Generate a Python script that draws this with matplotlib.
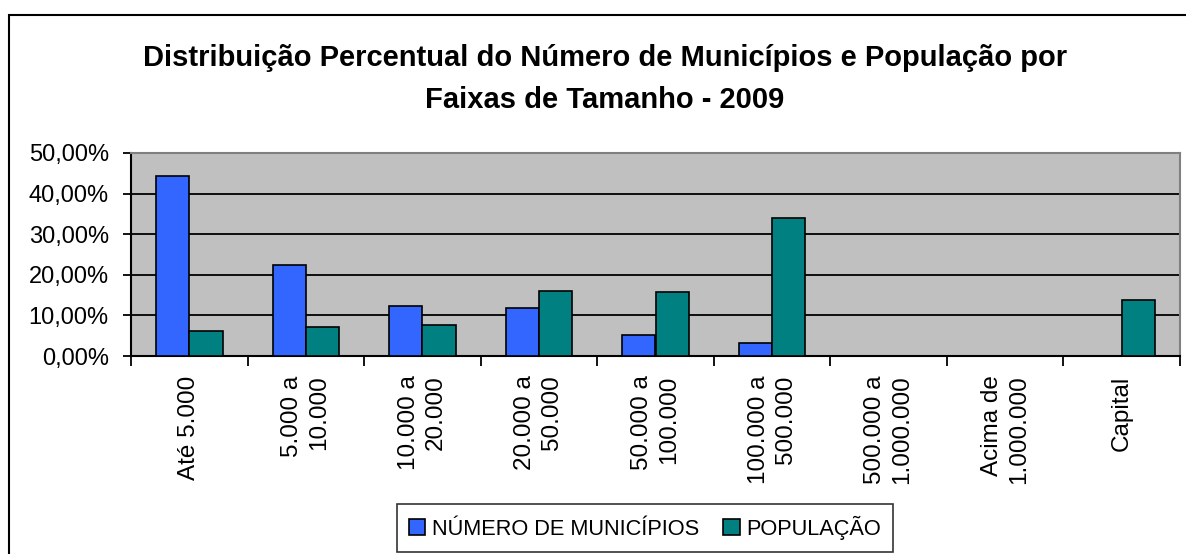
import numpy as np
import matplotlib
matplotlib.use('Agg')
import matplotlib.pyplot as plt
from matplotlib.patches import Rectangle
from matplotlib.ticker import FuncFormatter, MultipleLocator

plt.rcParams['font.family'] = ['Liberation Sans', 'DejaVu Sans']

# Faixas de tamanho e percentuais
faixas = ['Até 5.000', '5.000 a\n10.000', '10.000 a\n20.000', '20.000 a\n50.000',
          '50.000 a\n100.000', '100.000 a\n500.000', '500.000 a\n1.000.000',
          'Acima de\n1.000.000', 'Capital']
municipios = [44.3, 22.4, 12.4, 11.9, 5.2, 3.3, 0.0, 0.0, 0.0]
populacao = [6.2, 7.1, 7.6, 16.1, 15.7, 33.9, 0.0, 0.0, 13.8]

W, H = 1186, 554
fig = plt.figure(figsize=(W / 100, H / 100), dpi=100)

# moldura do gráfico
fig.patches.append(Rectangle((9 / W, -0.1), 1.2, 1 - 15.5 / H + 0.1, transform=fig.transFigure,
                             fill=False, edgecolor='black', linewidth=1.5))

left, right, top, bottom = 131, 1180, 153, 356
ax = fig.add_axes([left / W, 1 - bottom / H, (right - left) / W, (bottom - top) / H])
ax.set_facecolor('#C0C0C0')

x = np.arange(len(faixas))
bw = 1 / 3.5
mask_m = [v > 0 for v in municipios]
mask_p = [v > 0 for v in populacao]
ax.bar(x[mask_m] - bw / 2, np.array(municipios)[mask_m], width=bw, color='#3366FF',
       edgecolor='black', linewidth=1.2, label='NÚMERO DE MUNICÍPIOS', zorder=3)
ax.bar(x[mask_p] + bw / 2, np.array(populacao)[mask_p], width=bw, color='#008080',
       edgecolor='black', linewidth=1.2, label='POPULAÇÃO', zorder=3)

ax.set_xlim(-0.5, len(faixas) - 0.5)
ax.set_ylim(0, 50)
ax.yaxis.set_major_locator(MultipleLocator(10))
ax.yaxis.set_major_formatter(FuncFormatter(lambda v, p: f'{v:.2f}%'.replace('.', ',')))
ax.grid(axis='y', color='black', linewidth=1.3, zorder=1)

ax.set_xticks(x)
ax.set_xticklabels(faixas, rotation=90, ha='center', va='top', multialignment='right',
                   fontsize=17.5, linespacing=1.3)
ax.set_xticks(np.arange(len(faixas) + 1) - 0.5, minor=True)
ax.tick_params(axis='x', which='major', length=0, pad=14)
ax.tick_params(axis='x', which='minor', length=7, width=1.3, color='black')
ax.tick_params(axis='y', length=6, width=1.3, pad=10, labelsize=17)

for s in ['left', 'bottom']:
    ax.spines[s].set_color('black')
    ax.spines[s].set_linewidth(1.5)
for s in ['top', 'right']:
    ax.spines[s].set_color('#808080')
    ax.spines[s].set_linewidth(1.5)

fig.text(605 / W, 1 - 58 / H, 'Distribuição Percentual do Número de Municípios e População por',
         ha='center', va='center', fontsize=21, fontweight='bold')
fig.text(605 / W, 1 - 100 / H, 'Faixas de Tamanho - 2009',
         ha='center', va='center', fontsize=21, fontweight='bold')

leg = fig.legend(loc='center', bbox_to_anchor=(645 / W, 1 - 528 / H), ncol=2, fontsize=15.7,
                 frameon=True, fancybox=False, edgecolor='black', handlelength=0.75,
                 handleheight=0.75, handletextpad=0.3, columnspacing=1.1, borderpad=0.55,
                 borderaxespad=0)
leg.get_frame().set_linewidth(1.2)

fig.savefig('out.png', dpi=100)
